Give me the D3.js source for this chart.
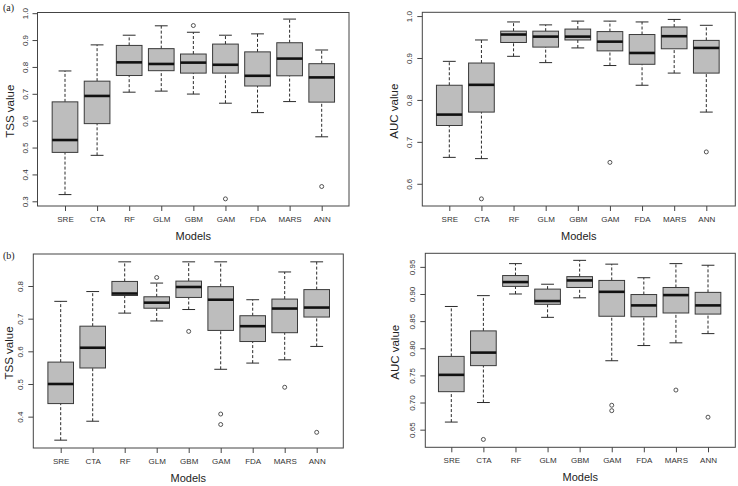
<!DOCTYPE html>
<html>
<head>
<meta charset="utf-8">
<script src="https://cdn.jsdelivr.net/npm/d3@7"></script>
<style>
  html, body { margin: 0; padding: 0; background: #fff; }
  svg { display: block; }
  text { font-family: "Liberation Sans", Arial, sans-serif; }
</style>
</head>
<body>
<svg id="chart" width="738" height="486"></svg>
<script>
const models = ["SRE", "CTA", "RF", "GLM", "GBM", "GAM", "FDA", "MARS", "ANN"];

// Each row: [lower whisker, Q1, median, Q3, upper whisker]
const tssA = [
  [0.325, 0.482, 0.528, 0.670, 0.785],
  [0.471, 0.589, 0.692, 0.747, 0.882],
  [0.706, 0.768, 0.817, 0.880, 0.918],
  [0.710, 0.786, 0.811, 0.868, 0.953],
  [0.699, 0.777, 0.816, 0.848, 0.929],
  [0.665, 0.777, 0.808, 0.885, 0.918],
  [0.630, 0.729, 0.767, 0.856, 0.923],
  [0.671, 0.767, 0.831, 0.890, 0.978],
  [0.540, 0.669, 0.761, 0.812, 0.863]
];
const tssAOutliers = [[4, 0.954], [5, 0.309], [8, 0.355]];

const aucA = [
  [0.663, 0.739, 0.765, 0.835, 0.892],
  [0.660, 0.771, 0.836, 0.888, 0.943],
  [0.904, 0.937, 0.956, 0.964, 0.986],
  [0.889, 0.926, 0.951, 0.964, 0.979],
  [0.924, 0.943, 0.951, 0.969, 0.988],
  [0.882, 0.917, 0.939, 0.963, 0.988],
  [0.835, 0.885, 0.912, 0.956, 0.986],
  [0.864, 0.922, 0.952, 0.974, 0.992],
  [0.771, 0.864, 0.924, 0.942, 0.978]
];
const aucAOutliers = [[1, 0.564], [5, 0.651], [8, 0.676]];

const tssB = [
  [0.328, 0.440, 0.500, 0.567, 0.753],
  [0.386, 0.549, 0.611, 0.677, 0.783],
  [0.717, 0.771, 0.777, 0.814, 0.874],
  [0.693, 0.732, 0.749, 0.767, 0.809],
  [0.728, 0.765, 0.797, 0.815, 0.874],
  [0.545, 0.664, 0.758, 0.798, 0.874],
  [0.564, 0.630, 0.677, 0.709, 0.758],
  [0.574, 0.657, 0.731, 0.760, 0.843],
  [0.615, 0.705, 0.734, 0.789, 0.874]
];
const tssBOutliers = [[3, 0.826], [4, 0.661], [5, 0.408], [5, 0.376], [7, 0.490], [8, 0.352]];

const aucB = [
  [0.664, 0.720, 0.751, 0.785, 0.877],
  [0.700, 0.768, 0.792, 0.832, 0.897],
  [0.900, 0.914, 0.922, 0.934, 0.956],
  [0.857, 0.881, 0.887, 0.909, 0.918],
  [0.893, 0.912, 0.925, 0.932, 0.962],
  [0.777, 0.859, 0.904, 0.925, 0.955],
  [0.805, 0.858, 0.879, 0.899, 0.930],
  [0.810, 0.865, 0.898, 0.912, 0.956],
  [0.827, 0.863, 0.879, 0.903, 0.953]
];
const aucBOutliers = [[1, 0.632], [5, 0.695], [5, 0.685], [7, 0.723], [8, 0.673]];

const tssATicks = [0.3, 0.4, 0.5, 0.6, 0.7, 0.8, 0.9, 1.0];
const aucATicks = [0.6, 0.7, 0.8, 0.9, 1.0];
const tssBTicks = [0.4, 0.5, 0.6, 0.7, 0.8];
const aucBTicks = [0.65, 0.70, 0.75, 0.80, 0.85, 0.90, 0.95];

const svg = d3.select("#chart");

const panels = [
  { stats: tssA, outliers: tssAOutliers, ticks: tssATicks, fmt: d3.format(".1f"), title: "TSS value",
    frame: { l: 37.5, t: 12.5, r: 349, b: 206 }, x1: 65, x9: 321.7, yDom: [0.2825, 1.0025],
    ytx: 9.5, tag: "(a)", tagY: 11 },
  { stats: aucA, outliers: aucAOutliers, ticks: aucATicks, fmt: d3.format(".1f"), title: "AUC value",
    frame: { l: 422.3, t: 12.3, r: 735.3, b: 206 }, x1: 449.3, x9: 706.3, yDom: [0.547, 1.009],
    ytx: 393.5 },
  { stats: tssB, outliers: tssBOutliers, ticks: tssBTicks, fmt: d3.format(".1f"), title: "TSS value",
    frame: { l: 33.3, t: 254, r: 343.3, b: 448 }, x1: 60.7, x9: 316.7, yDom: [0.304, 0.898],
    ytx: 8.5, tag: "(b)", tagY: 259 },
  { stats: aucB, outliers: aucBOutliers, ticks: aucBTicks, fmt: d3.format(".2f"), title: "AUC value",
    frame: { l: 425.3, t: 253.3, r: 735.3, b: 447.3 }, x1: 451.3, x9: 708, yDom: [0.6175, 0.975],
    ytx: 394.5 }
];

const ink = "#2b2b2b";

panels.forEach(p => {
  const f = p.frame;
  const x = d3.scaleLinear().domain([1, 9]).range([p.x1, p.x9]);
  const y = d3.scaleLinear().domain(p.yDom).range([f.b, f.t]);
  const unit = (p.x9 - p.x1) / 8;
  const bw = unit * 0.8;
  const sw = bw * 0.5;
  const g = svg.append("g");

  // whiskers (dashed)
  p.stats.forEach((s, i) => {
    const cx = x(i + 1);
    g.append("line").attr("x1", cx).attr("x2", cx).attr("y1", y(s[0])).attr("y2", y(s[1]))
      .attr("stroke", ink).attr("stroke-width", 1).attr("stroke-dasharray", "3,2");
    g.append("line").attr("x1", cx).attr("x2", cx).attr("y1", y(s[3])).attr("y2", y(s[4]))
      .attr("stroke", ink).attr("stroke-width", 1).attr("stroke-dasharray", "3,2");
    g.append("line").attr("x1", cx - sw / 2).attr("x2", cx + sw / 2).attr("y1", y(s[0])).attr("y2", y(s[0]))
      .attr("stroke", ink).attr("stroke-width", 1);
    g.append("line").attr("x1", cx - sw / 2).attr("x2", cx + sw / 2).attr("y1", y(s[4])).attr("y2", y(s[4]))
      .attr("stroke", ink).attr("stroke-width", 1);
    g.append("rect").attr("x", cx - bw / 2).attr("width", bw)
      .attr("y", y(s[3])).attr("height", y(s[1]) - y(s[3]))
      .attr("fill", "#bdbdbd").attr("stroke", "#3a3a3a").attr("stroke-width", 1);
    g.append("line").attr("x1", cx - bw / 2).attr("x2", cx + bw / 2).attr("y1", y(s[2])).attr("y2", y(s[2]))
      .attr("stroke", "#111").attr("stroke-width", 2.6);
  });

  p.outliers.forEach(o => {
    g.append("circle").attr("cx", x(o[0] + 1)).attr("cy", y(o[1])).attr("r", 2)
      .attr("fill", "none").attr("stroke", ink).attr("stroke-width", 0.8);
  });

  // frame
  g.append("rect").attr("x", f.l).attr("y", f.t).attr("width", f.r - f.l).attr("height", f.b - f.t)
    .attr("fill", "none").attr("stroke", "#444").attr("stroke-width", 1);

  // y axis
  const ya = g.append("g").attr("transform", `translate(${f.l},0)`)
    .call(d3.axisLeft(y).tickValues(p.ticks).tickFormat(p.fmt).tickSize(5));
  ya.select(".domain").remove();
  ya.selectAll(".tick line").attr("stroke", "#444");
  ya.selectAll(".tick text")
    .attr("x", 0).attr("dy", 0).attr("y", -10)
    .attr("transform", "rotate(-90)")
    .attr("text-anchor", "middle")
    .attr("fill", "#333").style("font-size", "8px")
    .style("font-family", "'Liberation Sans', Arial, sans-serif");

  // x axis
  const xa = g.append("g").attr("transform", `translate(0,${f.b})`)
    .call(d3.axisBottom(x).tickValues(d3.range(1, 10)).tickFormat(d => models[d - 1]).tickSize(5));
  xa.select(".domain").remove();
  xa.selectAll(".tick line").attr("stroke", "#444");
  xa.selectAll(".tick text").attr("y", 10.5)
    .attr("fill", "#333").style("font-size", "8px")
    .style("font-family", "'Liberation Sans', Arial, sans-serif");

  // axis titles
  svg.append("text").attr("x", (f.l + f.r) / 2).attr("y", f.b + 34)
    .attr("text-anchor", "middle").attr("fill", "#222").style("font-size", "11px").text("Models");
  svg.append("text").attr("transform", `translate(${p.ytx},${(f.t + f.b) / 2 + 2}) rotate(-90)`)
    .attr("text-anchor", "middle").attr("dy", "0.35em").attr("fill", "#222")
    .style("font-size", "11.5px").text(p.title);

  if (p.tag) {
    svg.append("text").attr("x", 3).attr("y", p.tagY).attr("fill", "#222")
      .style("font-family", "'Liberation Serif', 'Times New Roman', serif").style("font-size", "10px")
      .text(p.tag);
  }
});
</script>
</body>
</html>
